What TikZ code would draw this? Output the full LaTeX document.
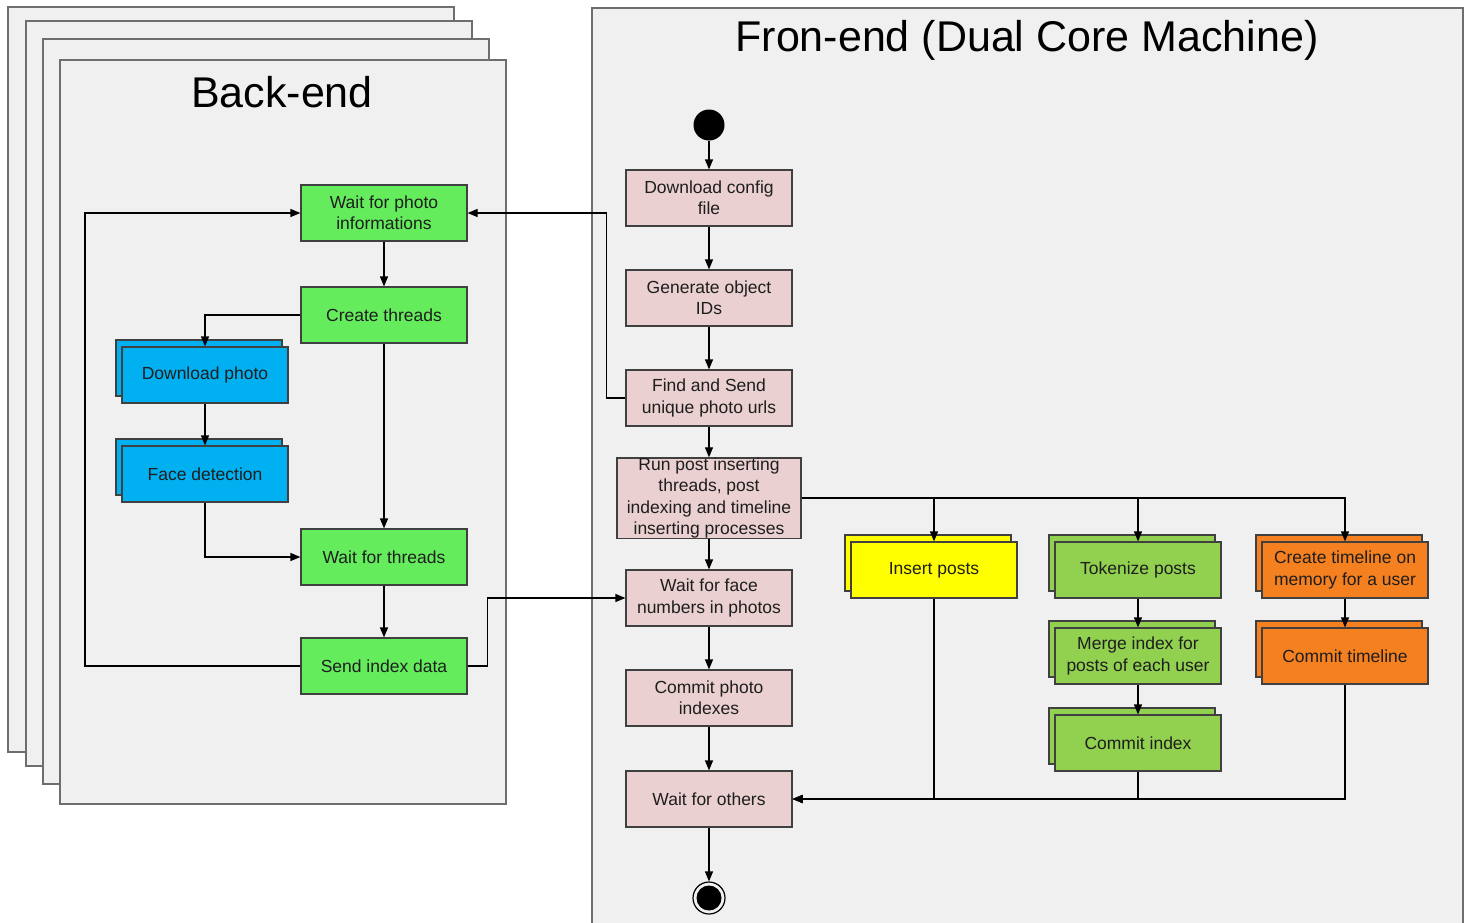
\documentclass[tikz,border=0pt]{standalone}
\usepackage{fontspec}
\setmainfont{Liberation Sans}
\usetikzlibrary{arrows.meta,calc,shadows}

\definecolor{panelfill}{RGB}{240,240,240}
\definecolor{panelline}{RGB}{110,110,110}
\definecolor{bgreen}{RGB}{100,236,92}
\definecolor{bblue}{RGB}{0,176,240}
\definecolor{fpink}{RGB}{234,208,208}
\definecolor{fyellow}{RGB}{255,255,0}
\definecolor{fgreen}{RGB}{146,208,80}
\definecolor{forange}{RGB}{245,128,32}
\definecolor{ink}{RGB}{30,30,30}

\tikzset{
  panel/.style={fill=panelfill, draw=panelline, line width=2pt},
  ptitle/.style={font=\fontsize{43}{50}\selectfont, text=black, inner sep=0pt},
  box/.style={draw=black!75, line width=1.2pt, minimum width=166pt, minimum height=56pt,
    align=center, font=\fontsize{17.5}{21.3}\selectfont, text=ink, inner sep=0pt},
  stacked/.style={box, copy shadow={shadow xshift=-6pt, shadow yshift=7pt}},
  flow/.style={-{Triangle[length=10pt,width=8pt]}, line width=1.2pt, draw=black},
}

\begin{document}
\begin{tikzpicture}[x=1pt, y=-1pt]
  \useasboundingbox (0,0) rectangle (1472,922);
  \clip (0,0) rectangle (1472,922);
  \fill[white] (0,0) rectangle (1472,922);

  % back-end stack of panels
  \draw[panel] (8,7) rectangle (454,752);
  \draw[panel] (26,21) rectangle (472,766);
  \draw[panel] (43,39) rectangle (489,784);
  \draw[panel] (60,60) rectangle (506,804);
  \node[ptitle] (betitle) at (282,92) {Back-end};

  % front-end panel
  \draw[panel] (592,8) rectangle (1463,940);
  \node[ptitle] (fetitle) at (1027,40) {Fron-end (Dual Core Machine)};

  % back-end activities
  \node[box, fill=bgreen] (wpi) at (384,213) {Wait for photo\\informations};
  \node[box, fill=bgreen] (ct)  at (384,315) {Create threads};
  \node[stacked, fill=bblue] (dp) at (205,375) {Download photo};
  \node[stacked, fill=bblue] (fd) at (205,474) {Face detection};
  \node[box, fill=bgreen] (wt)  at (384,557) {Wait for threads};
  \node[box, fill=bgreen] (sid) at (384,666) {Send index data};

  % front-end main flow
  \node[circle, fill=black, minimum size=31pt, inner sep=0pt] (start) at (709,125) {};
  \node[box, fill=fpink] (dl)    at (709,198) {Download config\\file};
  \node[box, fill=fpink] (gen)   at (709,298) {Generate object\\IDs};
  \node[box, fill=fpink] (find)  at (709,398) {Find and Send\\unique photo urls};
  \node[box, fill=fpink, minimum width=184pt, minimum height=79pt] (run) at (709,498)
    {Run post inserting\\threads, post\\indexing and timeline\\inserting processes};
  \node[box, fill=fpink] (wface) at (709,598) {Wait for face\\numbers in photos};
  \node[box, fill=fpink] (cpi)   at (709,698) {Commit photo\\indexes};
  \node[box, fill=fpink] (wo)    at (709,799) {Wait for others};
  \node[circle, draw=black, line width=1.2pt, minimum size=32pt, inner sep=0pt] (end) at (709,898) {};
  \fill[black] (end.center) circle (12.5pt);

  % parallel workers
  \node[stacked, fill=fyellow] (ins) at (934,570) {Insert posts};
  \node[stacked, fill=fgreen] (tok) at (1138,570) {Tokenize posts};
  \node[stacked, fill=fgreen] (mrg) at (1138,656) {Merge index for\\posts of each user};
  \node[stacked, fill=fgreen] (cix) at (1138,743) {Commit index};
  \node[stacked, fill=forange] (ctl) at (1345,570) {Create timeline on\\memory for a user};
  \node[stacked, fill=forange] (cmt) at (1345,656) {Commit timeline};

  % back-end connectors
  \coordinate (loopL) at (85,666);
  \draw[flow] (wpi) -- (ct);
  \draw[flow] (ct.west) -| (dp.north);
  \draw[flow] (dp) -- (fd);
  \draw[flow] (fd.south) |- (wt.west);
  \draw[flow] (ct) -- (wt);
  \draw[flow] (wt) -- (sid);
  \draw[flow] (sid.west) -- (loopL) |- (wpi.west);

  % links between the two machines
  \draw[flow] (sid.east) -- ++(20,0) |- (wface.west);
  \draw[flow] (find.west) -- ++(-19,0) |- (wpi.east);

  % front-end connectors
  \draw[flow] (start) -- (dl);
  \draw[flow] (dl) -- (gen);
  \draw[flow] (gen) -- (find);
  \draw[flow] (find) -- (run);
  \draw[flow] (run) -- (wface);
  \draw[flow] (wface) -- (cpi);
  \draw[flow] (cpi) -- (wo);
  \draw[flow] (wo) -- (end);

  % fork to the workers
  \draw[flow] (run.east) -| (ins.north);
  \draw[flow] (run.east) -| (tok.north);
  \draw[flow] (run.east) -| (ctl.north);
  \draw[flow] (tok) -- (mrg);
  \draw[flow] (mrg) -- (cix);
  \draw[flow] (ctl) -- (cmt);

  % join back into the main flow
  \draw[flow] (ins.south) |- (wo.east);
  \draw[flow] (cix.south) |- (wo.east);
  \draw[flow] (cmt.south) |- (wo.east);
\end{tikzpicture}
\end{document}
